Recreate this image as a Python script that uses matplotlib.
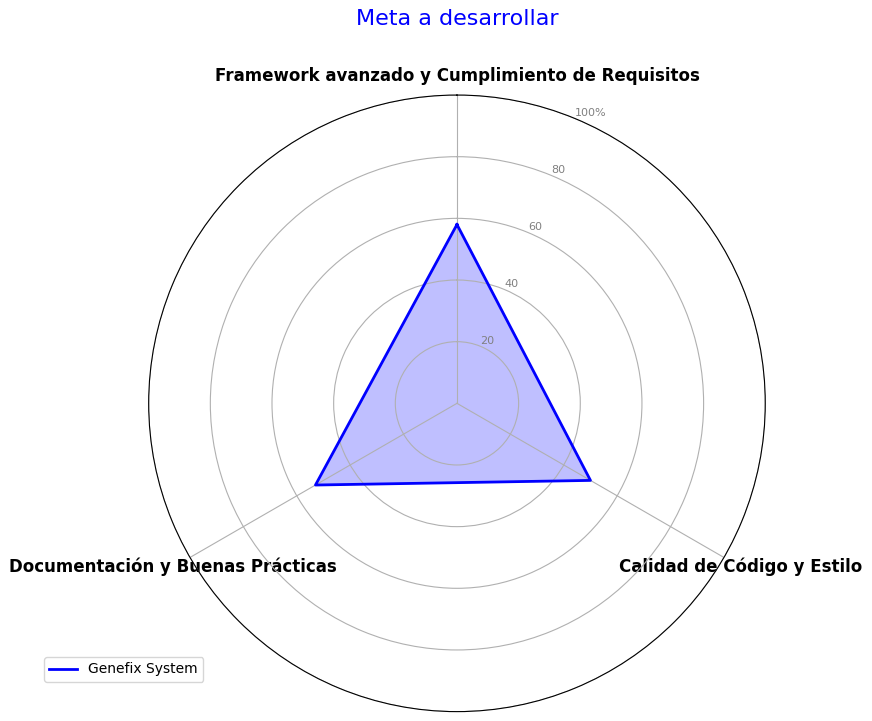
import numpy as np
import matplotlib
matplotlib.use("Agg")
import matplotlib.pyplot as plt

categories = ["Framework avanzado y Cumplimiento de Requisitos",
              "Calidad de Código y Estilo",
              "Documentación y Buenas Prácticas"]
values = [58, 50, 53]
series_name = "Genefix System"
rticks = [20, 40, 60, 80, 100]
rtick_labels = ["20", "40", "60", "80", "100%"]
title = "Meta a desarrollar"

n = len(categories)
angles = np.linspace(0, 2 * np.pi, n, endpoint=False).tolist()
vals = values + values[:1]
angs = angles + angles[:1]

fig = plt.figure(figsize=(8.72, 7.21), dpi=100)
ax = fig.add_axes([0.1705, 0.0130, 0.7071, 0.8552], polar=True)
ax.set_theta_offset(np.pi / 2)
ax.set_theta_direction(-1)

ax.plot(angs, vals, color="blue", linewidth=2, label=series_name)
ax.fill(angs, vals, color="blue", alpha=0.25)

ax.set_xticks(angles)
ax.set_xticklabels(categories, fontsize=12, fontweight="bold")
ax.set_ylim(0, 100)
ax.set_yticks(rticks)
ax.set_yticklabels(rtick_labels, color="grey", fontsize=8)
ax.set_rlabel_position(22.5)

ax.legend(loc="upper right", bbox_to_anchor=(0.1, 0.1))
fig.text(457 / 872, 1 - 19 / 721, title, color="blue", fontsize=16,
         ha="center", va="center")

fig.savefig("out.png", dpi=100)
